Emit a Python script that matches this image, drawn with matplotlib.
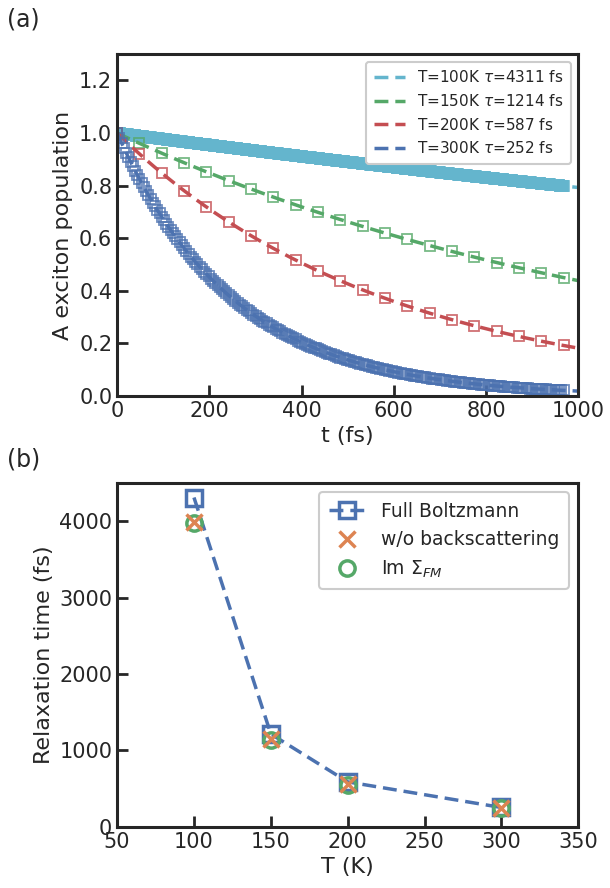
import numpy as np
import matplotlib
matplotlib.use('Agg')
import matplotlib.pyplot as plt

# seaborn "deep" colours
BLUE, ORANGE, GREEN, RED, CYAN = '#4C72B0', '#DD8452', '#55A868', '#C44E52', '#64B5CD'

# panel (a): population decay, lifetimes from the exponential fits
temps = [100, 150, 200, 300]
taus = [4311, 1214, 587, 252]
colors = [CYAN, GREEN, RED, BLUE]
mark_every = [1, 50, 50, 5]          # plot every n-th time step
dt = 0.968                           # simulation output step (fs)
n_steps = 1000

# panel (b): relaxation time vs temperature
T_full = [100, 150, 200, 300]
tau_full = [4311, 1214, 587, 252]
T_nobs = [100, 150, 200, 300]
tau_nobs = [3985, 1150, 560, 248]
T_imsig = [100, 150, 200, 300]
tau_imsig = [3980, 1140, 552, 245]

plt.rcParams.update({
    'font.family': 'DejaVu Sans',
    'text.color': '#262626',
    'axes.labelcolor': '#262626',
    'axes.edgecolor': '#262626',
    'axes.linewidth': 2.2,
    'xtick.color': '#262626',
    'ytick.color': '#262626',
    'xtick.direction': 'in',
    'ytick.direction': 'in',
    'xtick.major.size': 8,
    'ytick.major.size': 8,
    'xtick.major.width': 2.0,
    'ytick.major.width': 2.0,
    'xtick.labelsize': 15,
    'ytick.labelsize': 15,
    'axes.labelsize': 16,
    'legend.edgecolor': '0.8',
})


def main():
    fig = plt.figure(figsize=(6.1, 8.88), dpi=100)
    ax1 = fig.add_axes([0.192, 0.554, 0.756, 0.385])
    ax2 = fig.add_axes([0.192, 0.069, 0.756, 0.387])

    # (a) simulated populations (hollow squares) and exp(-t/tau) fits
    t_data = np.arange(n_steps + 1) * dt
    t_fit = np.linspace(0, 1000, 400)
    for T, tau, c, every in zip(temps, taus, colors, mark_every):
        ts = t_data[::every]
        ax1.plot(ts, np.exp(-ts / tau), 's', ms=6.5, mfc='none', mec=c,
                 mew=1.3, alpha=0.8)
        ax1.plot(t_fit, np.exp(-t_fit / tau), '--', color=c, lw=2.5,
                 dashes=(4, 2), label=f'T={T}K $\\tau$={tau} fs')

    ax1.set_xlim(0, 1000)
    ax1.set_ylim(0, 1.3)
    ax1.set_xticks([0, 200, 400, 600, 800, 1000])
    ax1.set_yticks([0.0, 0.2, 0.4, 0.6, 0.8, 1.0, 1.2])
    ax1.set_xlabel('t (fs)')
    ax1.set_ylabel('A exciton population')
    leg = ax1.legend(loc='upper right', fontsize=11, handlelength=2.0,
                     labelspacing=0.5, borderpad=0.5, framealpha=1)
    leg.get_frame().set_linewidth(1.5)

    # (b) relaxation times
    ax2.plot(T_full, tau_full, '--s', color=BLUE, ms=12, mfc='none',
             mew=2.5, lw=2.5, dashes=(4, 2), label='Full Boltzmann', zorder=3)
    ax2.plot(T_imsig, tau_imsig, 'o', color=GREEN, ms=11, mfc='none',
             mew=2.5, label=r'Im $\Sigma_{FM}$', zorder=4)
    ax2.plot(T_nobs, tau_nobs, 'x', color=ORANGE, ms=11, mew=2.5,
             label='w/o backscattering', zorder=5)

    ax2.set_xlim(50, 350)
    ax2.set_ylim(0, 4500)
    ax2.set_xticks([50, 100, 150, 200, 250, 300, 350])
    ax2.set_yticks([0, 1000, 2000, 3000, 4000])
    ax2.set_xlabel('T (K)')
    ax2.set_ylabel('Relaxation time (fs)')
    h, l = ax2.get_legend_handles_labels()
    order = [0, 2, 1]
    leg = ax2.legend([h[i] for i in order], [l[i] for i in order],
                     loc='upper right', fontsize=13.5, handlelength=2.0,
                     labelspacing=0.5, borderpad=0.5, framealpha=1)
    leg.get_frame().set_linewidth(1.5)

    fig.text(0.012, 0.97, '(a)', fontsize=17)
    fig.text(0.012, 0.475, '(b)', fontsize=17)

    fig.savefig('out.png', dpi=100)


if __name__ == '__main__':
    main()
